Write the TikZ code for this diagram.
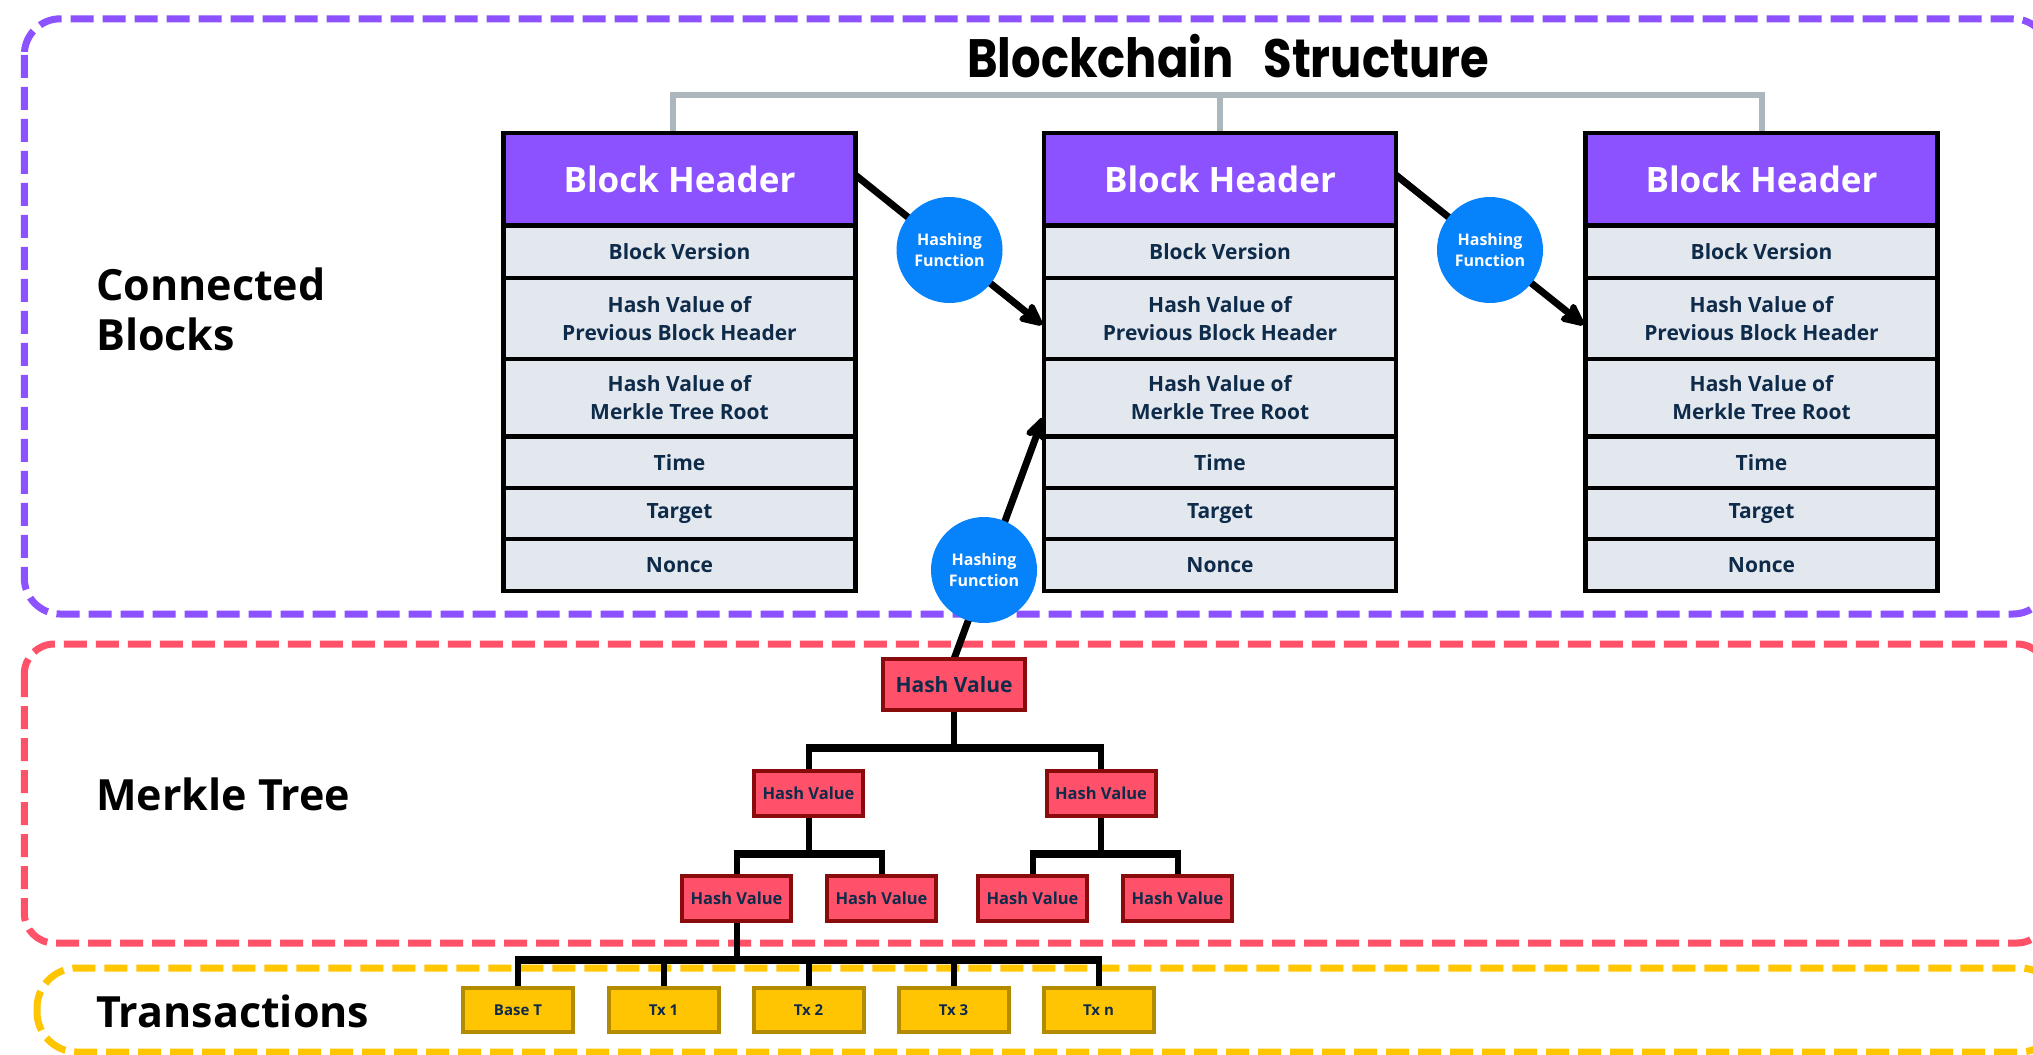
\documentclass[tikz,border=0pt]{standalone}
\usepackage{fontspec}
\setmainfont{Open Sans}
\newfontfamily\titlefont{Poppins}[FakeStretch=0.86]
\usetikzlibrary{arrows.meta,calc}

\pgfdeclarelayer{paper}
\pgfdeclarelayer{frames}
\pgfdeclarelayer{links}
\pgfsetlayers{paper,frames,links,main}

\definecolor{frPurple}{HTML}{8C52FF}
\definecolor{frRed}{HTML}{FF5269}
\definecolor{frYellow}{HTML}{FFC600}
\definecolor{hdrPurple}{HTML}{8C52FF}
\definecolor{rowFill}{HTML}{E3E8EF}
\definecolor{navy}{HTML}{0F2B4A}
\definecolor{hashBlue}{HTML}{0682FB}
\definecolor{nodeRed}{HTML}{FF5169}
\definecolor{nodeRedEdge}{HTML}{8A0B0B}
\definecolor{txYellow}{HTML}{FFC502}
\definecolor{txEdge}{HTML}{B38B00}
\definecolor{bracketGray}{HTML}{ABB6BD}

\tikzset{
  frame/.style={line width=7pt, dash pattern=on 23pt off 9pt},
  hdr/.style={draw=black, line width=4.5pt, fill=hdrPurple, text=white,
    minimum width=352pt, inner sep=0pt, outer sep=0pt,
    font=\bfseries\fontsize{35}{40}\selectfont},
  row/.style={draw=black, line width=4.5pt, fill=rowFill, text=navy,
    minimum width=352pt, inner sep=0pt, outer sep=0pt, align=center,
    font=\bfseries\fontsize{21}{27.5}\selectfont},
  hashfn/.style={circle, fill=hashBlue, minimum size=106pt, inner sep=0pt,
    text=white, align=center, font=\bfseries\fontsize{16}{21}\selectfont},
  link/.style={line width=7pt, -{Stealth[length=28pt,width=26pt,inset=5pt,round]},
    shorten >=2.5pt},
  hv/.style={draw=nodeRedEdge, fill=nodeRed, line width=4pt, text=navy,
    inner sep=0pt, outer sep=0pt, minimum width=109pt, minimum height=45pt,
    font=\bfseries\fontsize{16.5}{20}\selectfont},
  hvroot/.style={hv, minimum width=142pt, minimum height=51pt,
    font=\bfseries\fontsize{21}{25}\selectfont},
  txbox/.style={draw=txEdge, fill=txYellow, line width=4pt, text=navy,
    inner sep=0pt, outer sep=0pt, minimum width=110pt, minimum height=44pt,
    font=\bfseries\fontsize{15}{18}\selectfont},
  stem/.style={line width=6pt},
  bar/.style={line width=8pt},
  bracket/.style={line width=6pt, draw=bracketGray},
  section/.style={anchor=base west, inner sep=0pt,
    font=\bfseries\fontsize{43}{50}\selectfont},
}

\begin{document}
\begin{tikzpicture}[x=1pt,y=-1pt]
\begin{pgfonlayer}{paper}
\fill[white] (0,0) rectangle (2033,1054);
\end{pgfonlayer}
\useasboundingbox (0,0) rectangle (2033,1054);

% title and section labels
\node[anchor=base, inner sep=0pt, font=\titlefont\bfseries\fontsize{54}{60}\selectfont]
  (title) at (1228,78) {Blockchain\hspace{0.55em}Structure};
\node[section] (lblConn1) at (96,300) {Connected};
\node[section] (lblConn2) at (96,350) {Blocks};
\node[section] (lblMerkle) at (96,810) {Merkle Tree};
\node[section] (lblTx) at (96,1027) {Transactions};

% the three blocks
\foreach \i/\cx in {1/679.5, 2/1220, 3/1761.5} {
  \node[hdr, minimum height=92.3pt] (b\i h) at (\cx,179.15) {Block Header};
  \node[row, minimum height=52.7pt] (b\i v) at (\cx,251.65) {Block Version};
  \node[row, minimum height=80.8pt] (b\i p) at (\cx,318.4) {Hash Value of\\Previous Block Header};
  \node[row, minimum height=77.5pt] (b\i m) at (\cx,397.55) {Hash Value of\\Merkle Tree Root};
  \node[row, minimum height=51.7pt] (b\i t) at (\cx,462.15) {Time};
  \node[row, minimum height=51pt] (b\i g) at (\cx,513.5) {Target};
  \node[row, minimum height=52pt] (b\i n) at (\cx,565) {Nonce};
}

% Merkle tree
\node[hvroot] (root) at (954,684.5) {Hash Value};
\node[hv] (l2a) at (808.5,793.5) {Hash Value};
\node[hv] (l2b) at (1101,793.5) {Hash Value};
\node[hv] (l3a) at (736.5,898.5) {Hash Value};
\node[hv] (l3b) at (881.5,898.5) {Hash Value};
\node[hv] (l3c) at (1032.5,898.5) {Hash Value};
\node[hv] (l3d) at (1177.5,898.5) {Hash Value};

% transactions
\node[txbox] (t0) at (518,1010) {Base T};
\node[txbox] (t1) at (663.5,1010) {Tx 1};
\node[txbox] (t2) at (808.5,1010) {Tx 2};
\node[txbox] (t3) at (953.5,1010) {Tx 3};
\node[txbox] (t4) at (1098.5,1010) {Tx n};

% hashing functions
\node[hashfn] (hf1) at (949.5,250) {Hashing\\Function};
\node[hashfn] (hf2) at (1490,250) {Hashing\\Function};
\node[hashfn] (hf3) at (984,570) {Hashing\\Function};

% dashed section frames
\begin{pgfonlayer}{frames}
\draw[frame, draw=frPurple, rounded corners=36pt] (24.3,18.8) rectangle (2049,614);
\draw[frame, draw=frRed, rounded corners=30pt] (24.3,644) rectangle (2047,943);
\draw[frame, draw=frYellow, rounded corners=40pt] (37,968) rectangle (2060,1052);
\end{pgfonlayer}

% connectors
\begin{pgfonlayer}{links}
\coordinate (brk) at (0,95);
\coordinate (lv1) at (0,748);
\coordinate (lv2) at (0,854);
\coordinate (lv3) at (0,960);

\draw[bracket] ([xshift=-7pt]b1h.north) -- ([xshift=-7pt]b1h.north |- brk)
  -- (b3h.north |- brk) -- (b3h.north);
\draw[bracket] (b2h.north |- brk) -- (b2h.north);

\draw[link] ([yshift=4pt]b1h.east) -- ([yshift=-8pt]b2p.west);
\draw[link] ([yshift=4pt]b2h.east) -- ([yshift=-8pt]b3p.west);
\draw[link] (root.north) -- ([yshift=21pt]b2m.south west);

\draw[stem] (root.south) -- (root.south |- lv1);
\draw[bar] ([xshift=-3pt]l2a.north |- lv1) -- ([xshift=3pt]l2b.north |- lv1);
\draw[stem] (l2a.north |- lv1) -- (l2a.north);
\draw[stem] (l2b.north |- lv1) -- (l2b.north);

\draw[stem] (l2a.south) -- (l2a.south |- lv2);
\draw[bar] ([xshift=-3pt]l3a.north |- lv2) -- ([xshift=3pt]l3b.north |- lv2);
\draw[stem] (l3a.north |- lv2) -- (l3a.north);
\draw[stem] (l3b.north |- lv2) -- (l3b.north);

\draw[stem] (l2b.south) -- (l2b.south |- lv2);
\draw[bar] ([xshift=-3pt]l3c.north |- lv2) -- ([xshift=3pt]l3d.north |- lv2);
\draw[stem] (l3c.north |- lv2) -- (l3c.north);
\draw[stem] (l3d.north |- lv2) -- (l3d.north);

\draw[stem] (l3a.south) -- (l3a.south |- lv3);
\draw[bar] ([xshift=-3pt]t0.north |- lv3) -- ([xshift=3pt]t4.north |- lv3);
\foreach \t in {t0,t1,t2,t3,t4} {
  \draw[stem] (\t.north |- lv3) -- (\t.north);
}
\end{pgfonlayer}
\end{tikzpicture}
\end{document}
